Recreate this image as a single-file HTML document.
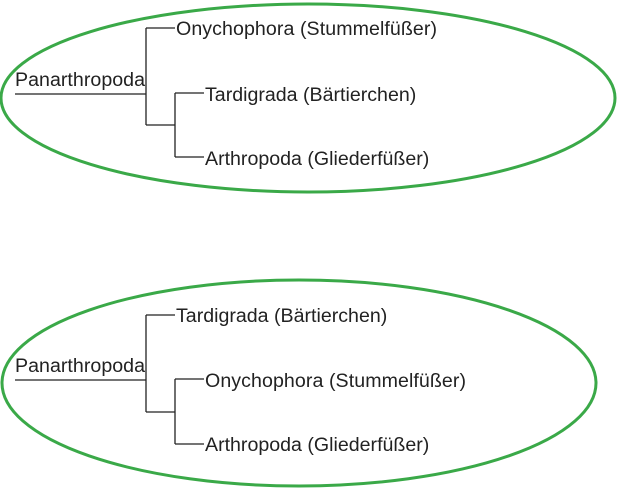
<!DOCTYPE html>
<html><head><meta charset="utf-8"><style>body{margin:0;background:#fff}</style></head><body>
<svg width="627" height="491" xmlns="http://www.w3.org/2000/svg" font-family="Liberation Sans, sans-serif" font-size="19.6" fill="#222">
<g fill="none" stroke="#3aa948" stroke-width="3">
<ellipse cx="308" cy="98" rx="307" ry="94"/>
<ellipse cx="299" cy="383" rx="297" ry="103"/>
</g>
<g stroke="#222" stroke-width="1.3" fill="none">
<path d="M15 94H146M146 28V125M146 28H175M146 125H175M175 93V157M175 93H204M175 157H204"/>
<path d="M15 380H146M146 315V412M146 315H175M146 412H175M175 379V444M175 379H204M175 444H204"/>
</g>
<text x="15" y="86" textLength="130">Panarthropoda</text>
<text x="176" y="35" textLength="261">Onychophora (Stummelfüßer)</text>
<text x="205" y="101">Tardigrada (Bärtierchen)</text>
<text x="205" y="165">Arthropoda (Gliederfüßer)</text>
<text x="15" y="372" textLength="130">Panarthropoda</text>
<text x="176" y="322">Tardigrada (Bärtierchen)</text>
<text x="205" y="387" textLength="261">Onychophora (Stummelfüßer)</text>
<text x="205" y="451">Arthropoda (Gliederfüßer)</text>
</svg>
</body></html>
